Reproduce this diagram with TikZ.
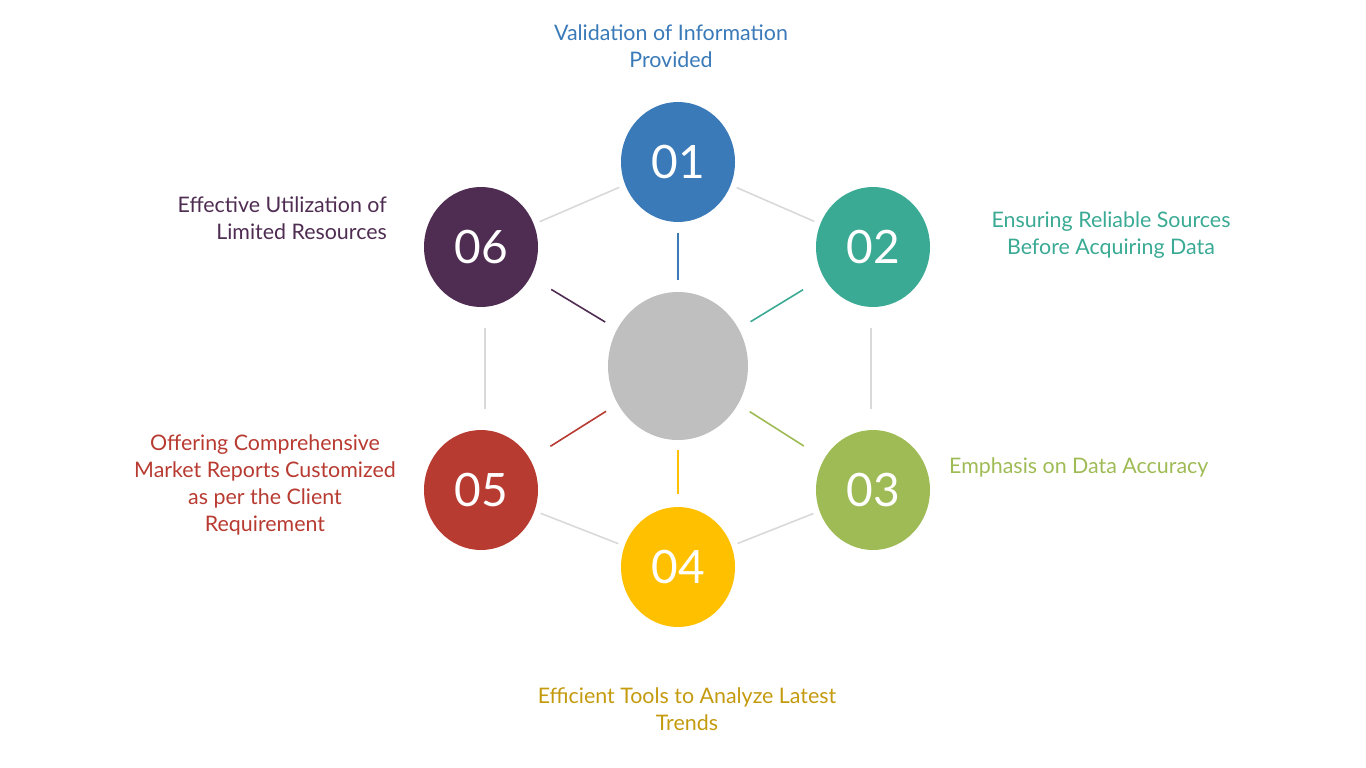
\documentclass[tikz,border=0pt]{standalone}
\usepackage{fontspec}
\setmainfont{Lato}
\usetikzlibrary{shapes.geometric}
\definecolor{cA}{HTML}{3A7AB8}
\definecolor{cB}{HTML}{3AAA94}
\definecolor{cC}{HTML}{9FBB55}
\definecolor{cD}{HTML}{FFC000}
\definecolor{cDt}{HTML}{C49A0E}
\definecolor{cE}{HTML}{B83B32}
\definecolor{cF}{HTML}{4F2D52}
\definecolor{cG}{HTML}{BFBFBF}
\definecolor{cL}{HTML}{D9D9D9}
\tikzset{
  bubble/.style={ellipse,minimum width=114pt,minimum height=120pt,inner sep=0pt,
    text=white,font=\fontsize{46}{46}\selectfont},
  hub/.style={ellipse,fill=cG,minimum width=140pt,minimum height=148pt,inner sep=0pt},
  label/.style={font=\fontsize{21.4}{27}\selectfont,inner sep=0pt},
  rim/.style={draw=cL,line width=1.6pt},
  spoke/.style={line width=1.6pt},
}
\begin{document}
\begin{tikzpicture}[x=1pt,y=-1pt]
\useasboundingbox (0,0) rectangle (1366,768);
\node[hub] (c) at (678,366) {};
\node[bubble,fill=cA] (n1) at (678,162) {01};
\node[bubble,fill=cB] (n2) at (873,247) {02};
\node[bubble,fill=cC] (n3) at (873,490) {03};
\node[bubble,fill=cD] (n4) at (678,567) {04};
\node[bubble,fill=cE] (n5) at (481,490) {05};
\node[bubble,fill=cF] (n6) at (481,247) {06};
% rim
\draw[rim,shorten <=64pt,shorten >=64pt] (n1.center) -- (n2.center);
\draw[rim,shorten <=81pt,shorten >=81pt] ([xshift=-2pt]n2.center) -- ([xshift=-2pt]n3.center);
\draw[rim,shorten <=64pt,shorten >=64pt] (n3.center) -- (n4.center);
\draw[rim,shorten <=64pt,shorten >=64pt] (n4.center) -- (n5.center);
\draw[rim,shorten <=81pt,shorten >=81pt] ([xshift=4pt]n5.center) -- ([xshift=4pt]n6.center);
\draw[rim,shorten <=64pt,shorten >=64pt] (n6.center) -- (n1.center);
% spokes
\draw[spoke,cA,shorten <=86pt,shorten >=71pt] (c.center) -- (n1.center);
\draw[spoke,cB,shorten <=85pt,shorten >=82pt] (c.center) -- (n2.center);
\draw[spoke,cC,shorten <=85pt,shorten >=82pt] (c.center) -- (n3.center);
\draw[spoke,cD,shorten <=84pt,shorten >=73pt] (c.center) -- (n4.center);
\draw[spoke,cE,shorten <=85pt,shorten >=82pt] (c.center) -- (n5.center);
\draw[spoke,cF,shorten <=85pt,shorten >=82pt] (c.center) -- (n6.center);
% labels
\node[label,text=cA,align=center] (t1) at (671,46) {Validation of Information\\Provided};
\node[label,text=cB,align=center] (t2) at (1111,235) {Ensuring Reliable Sources\\Before Acquiring Data};
\node[label,text=cC,anchor=west] (t3) at (949,467) {Emphasis on Data Accuracy};
\node[label,text=cDt,align=center] (t4) at (687,709) {Efficient Tools to Analyze Latest\\Trends};
\node[label,text=cE,align=center] (t5) at (265,485) {Offering Comprehensive\\Market Reports Customized\\as per the Client\\Requirement};
\node[label,text=cF,align=right,anchor=east] (t6) at (387,218) {Effective Utilization of\\Limited Resources};
\end{tikzpicture}
\end{document}
